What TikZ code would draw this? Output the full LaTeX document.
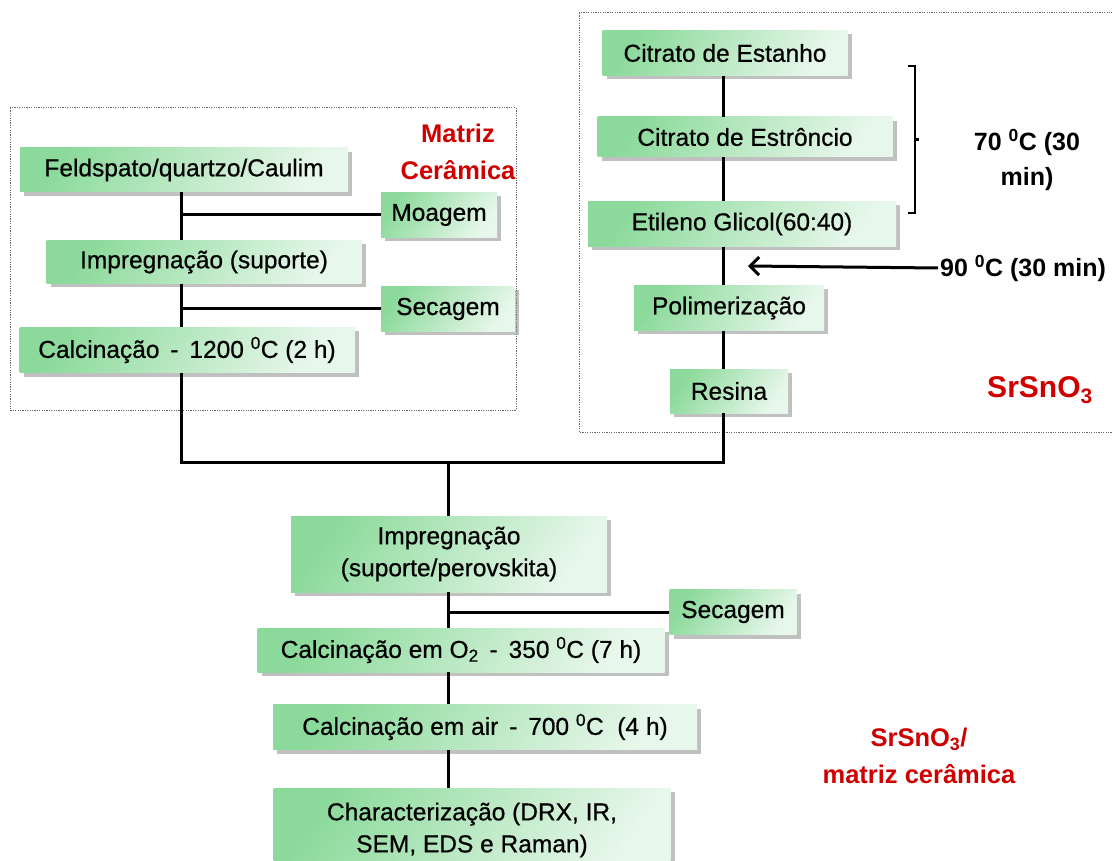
\documentclass[tikz,border=0pt]{standalone}
\usepackage{fontspec}
\setmainfont{Liberation Sans}
\newfontfamily\boxfont{Liberation Sans}[FakeBold=0.6]
\usetikzlibrary{arrows.meta,positioning,shadows,calc}
\definecolor{BoxGreen}{RGB}{140,218,155}
\definecolor{BoxPale}{RGB}{232,247,235}
\definecolor{LabelRed}{RGB}{206,0,0}

\begin{document}
\begin{tikzpicture}[x=1pt,y=-1pt,
  stepbox/.style={rectangle,inner sep=0pt,top color=BoxGreen,bottom color=BoxPale,shading angle=55,
    drop shadow={shadow xshift=4pt,shadow yshift=-4pt,fill=black!45,opacity=0.55},
    font=\boxfont\fontsize{24.5}{32}\selectfont,align=center},
  redlabel/.style={font=\bfseries\fontsize{25.5}{37}\selectfont,text=LabelRed,align=center},
  blacklabel/.style={font=\bfseries\fontsize{25}{35}\selectfont,align=center},
  frame/.style={draw=black!60,line width=1pt,dash pattern=on 1.2pt off 1.2pt},
  link/.style={line width=3pt,line join=miter}
]
  \useasboundingbox (0,0) rectangle (1112,861);
  % dotted frames
  \draw[frame] (10,108) rectangle (516,410);
  \draw[frame] (579,13) rectangle (1130,432);

  % matriz ceramica
  \node[stepbox,minimum width=328,minimum height=44] (feld) at (184,170) {Feldspato/quartzo/Caulim};
  \node[stepbox,minimum width=116,minimum height=45] (moag) at (439,215) {Moagem};
  \node[stepbox,minimum width=315,minimum height=43] (impsup) at (204,262) {Impregnação (suporte)};
  \node[stepbox,minimum width=134,minimum height=45] (secA) at (448,309) {Secagem};
  \node[stepbox,minimum width=335,minimum height=45] (calcA) at (187,350) {Calcinação \,-\, 1200 \textsuperscript{0}C (2 h)};
  \node[redlabel] (mcer) at (458,152) {Matriz\\Cerâmica};

  % SrSnO3
  \node[stepbox,minimum width=245,minimum height=45] (citE) at (725,53) {Citrato de Estanho};
  \node[stepbox,minimum width=295,minimum height=40] (citS) at (745,137) {Citrato de Estrôncio};
  \node[stepbox,minimum width=308,minimum height=45] (etil) at (742,224) {Etileno Glicol(60:40)};
  \node[stepbox,minimum width=190,minimum height=45] (polim) at (729,308) {Polimerização};
  \node[stepbox,minimum width=118,minimum height=44] (resina) at (729,391) {Resina};
  \node[blacklabel] (t70) at (1027,160) {70 \textsuperscript{0}C (30\\min)};
  \node[blacklabel,anchor=west,inner sep=2pt] (t90) at (938,268) {90 \textsuperscript{0}C (30 min)};
  \node[redlabel,font=\bfseries\fontsize{30}{32}\selectfont] (srsn) at (1040,390) {SrSnO\textsubscript{3}};

  % suporte/perovskita
  \node[stepbox,minimum width=316,minimum height=76] (imp2) at (449,554) {Impregnação\\(suporte/perovskita)};
  \node[stepbox,minimum width=127,minimum height=45] (secB) at (733,612) {Secagem};
  \node[stepbox,minimum width=407,minimum height=44] (calcO) at (461,650) {Calcinação em O\textsubscript{2} \,-\, 350 \textsuperscript{0}C (7 h)};
  \node[stepbox,minimum width=424,minimum height=45] (calcAir) at (485,727) {Calcinação em air \,-\, 700 \textsuperscript{0}C \ (4 h)};
  \node[stepbox,minimum width=397,minimum height=84] (charz) at (472,830) {Characterização (DRX, IR,\\SEM, EDS e Raman)};
  \node[redlabel] (srmat) at (919,756) {SrSnO\textsubscript{3}/\\matriz cerâmica};

  \coordinate (ltrunk) at (181,0);
  \coordinate (rtrunk) at (723,0);
  \coordinate (join) at (448,462);
  \coordinate (harr) at (748,266);
  \coordinate (brt) at (915,66);
  \coordinate (brb) at (915,213);

  % connectors
  \draw[link] (feld.south -| ltrunk) -- (impsup.north -| ltrunk);
  \draw[link] (moag.west) -- (moag.west -| ltrunk);
  \draw[link] (impsup.south -| ltrunk) -- (calcA.north -| ltrunk);
  \draw[link] (secA.west) -- (secA.west -| ltrunk);
  \draw[link] (citE.south -| rtrunk) -- (citS.north -| rtrunk);
  \draw[link] (citS.south -| rtrunk) -- (etil.north -| rtrunk);
  \draw[link] (etil.south -| rtrunk) -- (polim.north -| rtrunk);
  \draw[link] (polim.south -| rtrunk) -- (resina.north -| rtrunk);
  \draw[link] (calcA.south -| ltrunk) |- (join) -| (resina.south -| rtrunk);
  \draw[link] (join) -- (imp2.north -| join);
  \draw[link] (imp2.south -| join) -- (calcO.north -| join);
  \draw[link] (secB.west) -- (secB.west -| join);
  \draw[link] (calcO.south -| join) -- (calcAir.north -| join);
  \draw[link] (calcAir.south -| join) -- (charz.north -| join);
  \draw[link,-{Straight Barb[length=9pt,width=18pt,line width=3pt]}] (t90.west) -- (harr);
  % bracket
  \draw[line width=2.5pt] ([xshift=-7pt]brt) -- (brt) -- (brb) -- ([xshift=-7pt]brb);
  \draw[line width=2.5pt] ($(brt)!0.5!(brb)$) -- ++(4,0);
\end{tikzpicture}
\end{document}
